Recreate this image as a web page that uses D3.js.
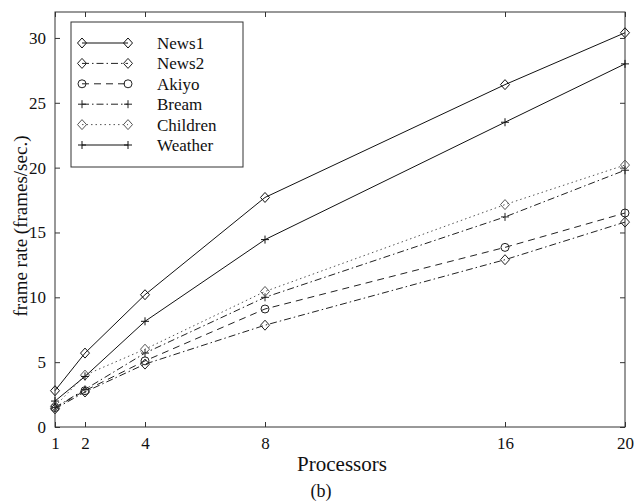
<!DOCTYPE html>
<html>
<head>
<meta charset="utf-8">
<script src="https://cdn.jsdelivr.net/npm/d3@7"></script>
<style>
  body { margin: 0; background: #fff; }
  svg text { font-family: "Liberation Serif", "Times New Roman", Times, serif !important; fill: #111; }
</style>
</head>
<body>
<script>
// data
var processors = [1, 2, 4, 8, 16, 20];
var yTicks = [0, 5, 10, 15, 20, 25, 30];
var news1    = [2.8, 5.7, 10.2, 17.7, 26.4, 30.4];
var news2    = [1.4, 2.7, 4.85, 7.85, 12.9, 15.8];
var akiyo    = [1.5, 2.8, 5.1, 9.1, 13.85, 16.5];
var bream    = [1.5, 2.9, 5.7, 10.0, 16.2, 19.8];
var children = [1.6, 4.0, 6.0, 10.45, 17.15, 20.2];
var weather  = [2.0, 3.9, 8.15, 14.45, 23.5, 28.0];

var series = [
  { name: "News1",    values: news1,    dash: null,          marker: "diamond", color: "#111" },
  { name: "News2",    values: news2,    dash: "7,3,1.5,3",   marker: "diamond", color: "#222" },
  { name: "Akiyo",    values: akiyo,    dash: "7,5",         marker: "circle",  color: "#222" },
  { name: "Bream",    values: bream,    dash: "7,3,1.5,3",   marker: "plus",    color: "#222" },
  { name: "Children", values: children, dash: "1.5,3",       marker: "diamond", color: "#555" },
  { name: "Weather",  values: weather,  dash: null,          marker: "plus",    color: "#111" }
];

var serif = '"Liberation Serif", "Times New Roman", Times, serif';
var width = 638, height = 504;
var margin = { left: 55, right: 13, top: 12, bottom: 77 };

var svg = d3.select("body").append("svg")
  .attr("width", width)
  .attr("height", height)
  .attr("font-family", serif);

var x = d3.scaleLinear().domain([1, 20]).range([margin.left, width - margin.right]);
var y = d3.scaleLinear().domain([0, 32]).range([height - margin.bottom, margin.top]);

// box
svg.append("rect")
  .attr("x", x(1)).attr("y", y(32))
  .attr("width", x(20) - x(1)).attr("height", y(0) - y(32))
  .attr("fill", "none").attr("stroke", "#333").attr("stroke-width", 1);

// axes with inward ticks (all four sides)
var tickLen = 5;
var gx = svg.append("g").attr("transform", "translate(0," + y(0) + ")")
  .call(d3.axisBottom(x).tickValues(processors).tickSizeInner(-tickLen).tickSizeOuter(0).tickPadding(9));
var gxTop = svg.append("g").attr("transform", "translate(0," + y(32) + ")")
  .call(d3.axisTop(x).tickValues(processors).tickSizeInner(-tickLen).tickSizeOuter(0).tickFormat(""));
var gy = svg.append("g").attr("transform", "translate(" + x(1) + ",0)")
  .call(d3.axisLeft(y).tickValues(yTicks).tickSizeInner(-tickLen).tickSizeOuter(0).tickPadding(9));
var gyRight = svg.append("g").attr("transform", "translate(" + x(20) + ",0)")
  .call(d3.axisRight(y).tickValues(yTicks).tickSizeInner(-tickLen).tickSizeOuter(0).tickFormat(""));

[gx, gxTop, gy, gyRight].forEach(function(g) {
  g.attr("font-family", serif).attr("font-size", 17);
  g.select(".domain").remove();
  g.selectAll(".tick line").attr("stroke", "#333");
  g.selectAll("text").attr("fill", "#111");
});
gx.selectAll("text").attr("dy", "0.75em");

// axis titles
svg.append("text")
  .attr("x", 342).attr("y", 471)
  .attr("text-anchor", "middle")
  .attr("font-size", 21)
  .text("Processors");

svg.append("text")
  .attr("transform", "translate(27," + 226 + ") rotate(-90)")
  .attr("text-anchor", "middle")
  .attr("font-size", 19)
  .text("frame rate (frames/sec.)");

svg.append("text")
  .attr("x", 321).attr("y", 497)
  .attr("text-anchor", "middle")
  .attr("font-size", 18)
  .text("(b)");

// marker drawing
function drawMarker(g, type, cx, cy, color) {
  if (type == "diamond") {
    g.append("path")
      .attr("d", "M" + cx + "," + (cy - 5) + "L" + (cx + 4.5) + "," + cy + "L" + cx + "," + (cy + 5) + "L" + (cx - 4.5) + "," + cy + "Z")
      .attr("fill", "none").attr("stroke", color).attr("stroke-width", 1);
  } else if (type == "circle") {
    g.append("circle")
      .attr("cx", cx).attr("cy", cy).attr("r", 4)
      .attr("fill", "none").attr("stroke", color).attr("stroke-width", 1);
  } else {
    g.append("path")
      .attr("d", "M" + (cx - 4) + "," + cy + "H" + (cx + 4) + "M" + cx + "," + (cy - 4) + "V" + (cy + 4))
      .attr("fill", "none").attr("stroke", color).attr("stroke-width", 1);
  }
}

var line = d3.line()
  .x(function(d, i) { return x(processors[i]); })
  .y(function(d) { return y(d); });

series.forEach(function(s) {
  var g = svg.append("g");
  g.append("path")
    .attr("d", line(s.values))
    .attr("fill", "none")
    .attr("stroke", s.color)
    .attr("stroke-width", 1)
    .attr("stroke-dasharray", s.dash);
  s.values.forEach(function(v, i) {
    drawMarker(g, s.marker, x(processors[i]), y(v), s.color);
  });
});

// Legend
var legend = svg.append("g");
legend.append("rect")
  .attr("x", 71).attr("y", 22)
  .attr("width", 172).attr("height", 145)
  .attr("fill", "#fff").attr("stroke", "#333").attr("stroke-width", 1);

series.forEach(function(s, i) {
  var ly = 43 + i * 20.4;
  var lg = legend.append("g");
  lg.append("line")
    .attr("x1", 82).attr("x2", 128)
    .attr("y1", ly).attr("y2", ly)
    .attr("stroke", s.color).attr("stroke-width", 1)
    .attr("stroke-dasharray", s.dash);
  drawMarker(lg, s.marker, 82, ly, s.color);
  drawMarker(lg, s.marker, 128, ly, s.color);
  lg.append("text")
    .attr("x", 157).attr("y", ly)
    .attr("dy", "0.35em")
    .attr("font-size", 17)
    .text(s.name);
});
</script>
</body>
</html>
